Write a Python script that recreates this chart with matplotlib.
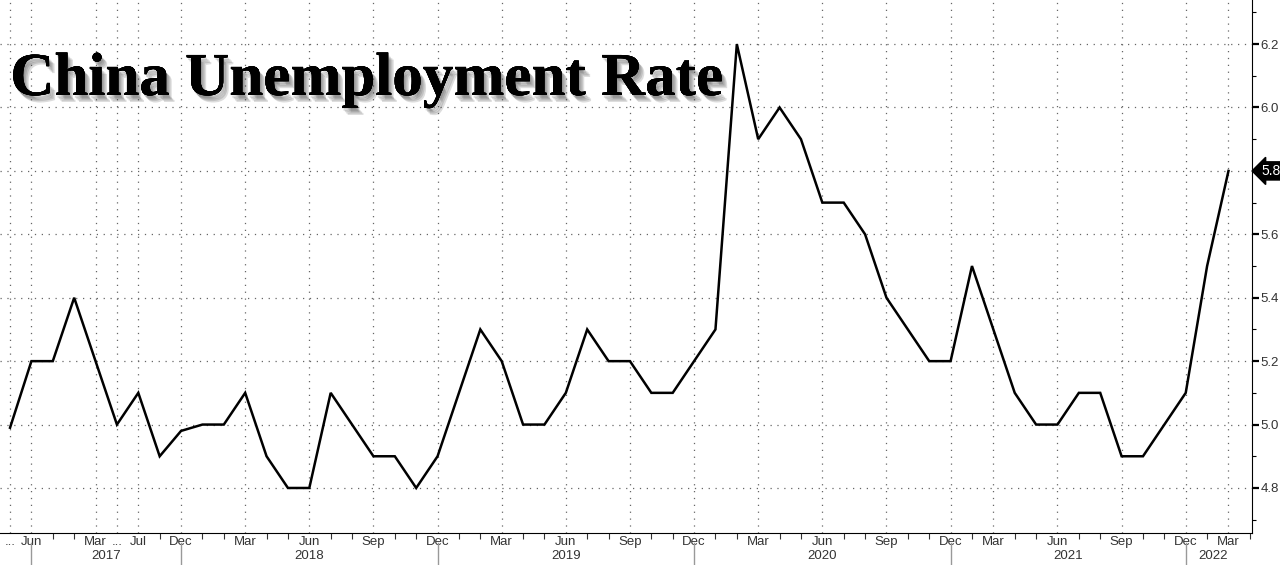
import matplotlib
matplotlib.use("Agg")
import matplotlib.pyplot as plt
import matplotlib.patheffects as pe
from matplotlib.ticker import FixedLocator, MultipleLocator

# observations are equally spaced (Bloomberg-style ordinal axis, Jan/Feb merged in 2021-22)
values_pre2018 = [4.99, 5.2, 5.2, 5.4, 5.2, 5.0, 5.1, 4.9, 4.98]
values_2018 = [5.0, 5.0, 5.1, 4.9, 4.8, 4.8, 5.1, 5.0, 4.9, 4.9, 4.8, 4.9]
values_2019 = [5.1, 5.3, 5.2, 5.0, 5.0, 5.1, 5.3, 5.2, 5.2, 5.1, 5.1, 5.2]
values_2020 = [5.3, 6.2, 5.9, 6.0, 5.9, 5.7, 5.7, 5.6, 5.4, 5.3, 5.2, 5.2]
values_2021 = [5.5, 5.3, 5.1, 5.0, 5.0, 5.1, 5.1, 4.9, 4.9, 5.0, 5.1]
values_2022 = [5.5, 5.8]
rate = values_pre2018 + values_2018 + values_2019 + values_2020 + values_2021 + values_2022

# month labels: (observation index, text)
tick_idx = [0, 1, 4, 5, 6, 8, 11, 14, 17, 20, 23, 26, 29, 32, 35, 38, 41, 44, 46, 49, 52, 55, 57]
tick_lbl = ["...", "Jun", "Mar", "...", "Jul", "Dec", "Mar", "Jun", "Sep", "Dec", "Mar", "Jun",
            "Sep", "Dec", "Mar", "Jun", "Sep", "Dec", "Mar", "Jun", "Sep", "Dec", "Mar"]
year_sep = [1, 8, 20, 32, 44, 55]
years = ["2017", "2018", "2019", "2020", "2021", "2022"]
y_ticks = [4.8, 5.0, 5.2, 5.4, 5.6, 5.8, 6.0, 6.2]

x = list(range(len(rate)))
LBL = dict(family="Liberation Sans", fontsize=9.5, color="#333333")

fig = plt.figure(figsize=(12.8, 5.65), dpi=100)
ax = fig.add_axes([0.0, 32 / 565, 1252 / 1280, 533 / 565])
ax.plot(x, rate, color="black", lw=1.8, solid_joinstyle="miter", zorder=3)

ax.set_xlim(-0.47, 58.1)
ax.set_ylim(4.658, 6.339)

grid_kw = dict(color="#666666", lw=0.9, ls=(0, (1, 4.5)), zorder=1)
for i in tick_idx:
    ax.axvline(i, **grid_kw)
for v in y_ticks:
    ax.axhline(v, **grid_kw)

for s in ["left", "top"]:
    ax.spines[s].set_visible(False)
ax.spines["right"].set_color("black")
ax.spines["bottom"].set_color("black")

# y axis on the right
ax.yaxis.tick_right()
ax.yaxis.set_minor_locator(MultipleLocator(0.1))
ax.set_yticks(y_ticks)
ax.set_yticklabels([("" if v == rate[-1] else f"{v:.1f}") for v in y_ticks],
                   family="Liberation Sans", fontsize=9.5)
ax.tick_params(axis="y", which="major", direction="out", length=5, width=1.6,
               labelcolor="#333333", pad=1)
ax.tick_params(axis="y", which="minor", direction="out", length=3, width=0.8)

# x axis
ax.xaxis.set_major_locator(FixedLocator(tick_idx))
ax.set_xticklabels(tick_lbl, **LBL)
ax.xaxis.set_minor_locator(FixedLocator(x + [58]))
ax.tick_params(axis="x", which="major", length=0, pad=2)
ax.tick_params(axis="x", which="minor", direction="out", length=4, width=0.8, color="#333333")

# year row
tr = ax.get_xaxis_transform()
for i in year_sep:
    ax.plot([i, i], [-0.019, -0.065], color="#999999", lw=1, transform=tr, clip_on=False)
bounds = year_sep + [57.6]
for k, yr in enumerate(years):
    cx = (bounds[k] + bounds[k + 1]) / 2
    ax.text(cx, -0.043, yr, transform=tr, ha="center", va="center", **LBL)

# last value tag
ax.annotate(f"{rate[-1]:.1f}", xy=(1.0, rate[-1]), xycoords=("axes fraction", "data"),
            xytext=(7, 0), textcoords="offset points", ha="left", va="center",
            family="Liberation Sans", fontsize=10, color="white",
            bbox=dict(boxstyle="larrow,pad=0.15", fc="black", ec="black"), annotation_clip=False)

shadow = [pe.withSimplePatchShadow(offset=(o, -o - 1), shadow_rgbFace="#444444", alpha=0.18)
          for o in (1, 2, 3, 4)]
fig.text(0.008, 1 - 95 / 565, "China Unemployment Rate", fontsize=44, fontweight="bold",
         family="Liberation Serif", color="black", va="baseline",
         path_effects=shadow + [pe.Normal()])

fig.savefig("out.png", dpi=100, facecolor="white")
